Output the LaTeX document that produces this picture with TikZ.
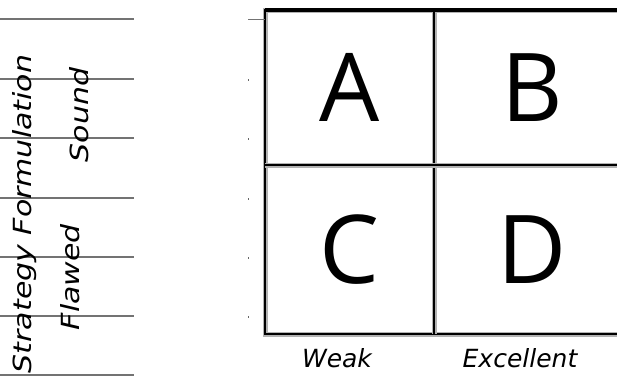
\documentclass[tikz,border=0pt]{standalone}
\usepackage{fontspec}
\setmainfont{Open Sans}
\newfontfamily\handfont{DejaVu Sans}
\usetikzlibrary{positioning}

\begin{document}
\begin{tikzpicture}[
x=1pt, y=-1pt,
node distance=0pt,
cell/.style={
inner sep=0pt,
outer sep=0pt,
font=\fontsize{95}{95}\selectfont
},
gridline/.style={
draw=black,
line width=2.2pt,
preaction={draw=black!30, line width=5pt}
},
axislabel/.style={
inner sep=0pt,
font=\handfont\itshape\fontsize{25}{25}\selectfont
},
sidelabel/.style={
axislabel,
rotate=90,
font=\handfont\itshape\fontsize{25}{25}\selectfont\addfontfeature{FakeStretch=1.2}
},
rule/.style={draw=black!55, line width=1.5pt}
]
\useasboundingbox (0,0) rectangle (617,376);
\clip (0,0) rectangle (617,376);

% lined paper on the left
\foreach \y in {19,79,138,198,257,316,375}
  \draw[rule] (0,\y) -- (134,\y);

\node (strategy) [sidelabel] at (25,214) {Strategy Formulation};
\node (sound) [sidelabel] at (79,115) {Sound};
\node (flawed) [sidelabel] at (70,277) {Flawed};

% the four quadrants
\node (A) [cell, minimum width=169pt, minimum height=155pt] at (349.5,87.5) {A};
\node (B) [cell, right=of A, minimum width=196pt, minimum height=155pt] {B};
\node (C) [cell, below=of A, minimum width=169pt, minimum height=169pt] {C};
\node (D) [cell, right=of C, minimum width=196pt, minimum height=169pt] {D};

\draw[gridline] (A.north west) rectangle (D.south east);
\draw[gridline] (A.north east) -- (C.south east);
\draw[gridline] (A.south west) -- (B.south east);
\draw[line width=3.5pt] (A.north west) -- (B.north east);

% axis ticks
\coordinate (tick) at (248,19);
\draw[draw=black!55, line width=1pt] (tick) -- (tick -| A.west);
\foreach \y in {79,138,198,257,316}
  \fill[black!60] (247.5,\y) rectangle (249,\y+1.5);

\node (weak) [axislabel] at (337,358) {Weak};
\node (excellent) [axislabel] at (520,358) {Excellent};

\end{tikzpicture}
\end{document}
